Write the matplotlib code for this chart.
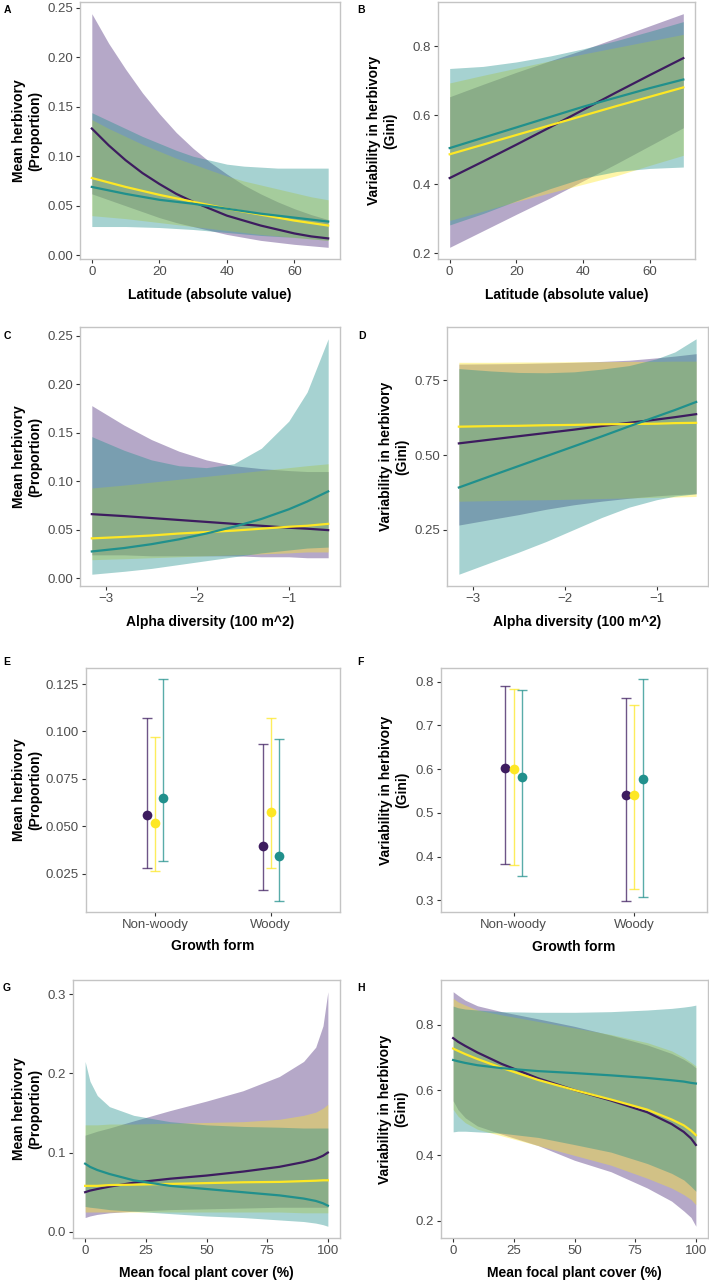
import numpy as np
import matplotlib.pyplot as plt

plt.rcParams['font.family'] = ['Liberation Sans', 'DejaVu Sans']

PURPLE = '#3d1c5f'
PURPLE_FILL = '#482677'
YELLOW = '#FDE725'
TEAL = '#21908C'

# ---- A : latitude, mean herbivory ----
lat_a = [0, 5, 10, 15, 20, 25, 30, 35, 40, 45, 50, 55, 60, 65, 70]
a_pur = [0.128, 0.111, 0.096, 0.083, 0.072, 0.062, 0.054, 0.047, 0.040, 0.035, 0.030, 0.026, 0.022, 0.019, 0.017]
a_pur_lo = [0.062, 0.056, 0.050, 0.044, 0.038, 0.033, 0.029, 0.025, 0.021, 0.018, 0.015, 0.013, 0.011, 0.0095, 0.008]
a_pur_hi = [0.244, 0.214, 0.188, 0.164, 0.143, 0.124, 0.108, 0.094, 0.082, 0.071, 0.062, 0.054, 0.047, 0.041, 0.036]
a_yel = [0.078, 0.0735, 0.069, 0.065, 0.061, 0.0575, 0.054, 0.0505, 0.047, 0.044, 0.041, 0.038, 0.035, 0.0325, 0.030]
a_yel_lo = [0.040, 0.0385, 0.037, 0.035, 0.033, 0.031, 0.029, 0.027, 0.025, 0.023, 0.021, 0.0195, 0.018, 0.0165, 0.015]
a_yel_hi = [0.137, 0.128, 0.120, 0.112, 0.105, 0.098, 0.092, 0.086, 0.080, 0.075, 0.071, 0.067, 0.063, 0.059, 0.056]
a_tea = [0.069, 0.0655, 0.062, 0.059, 0.056, 0.054, 0.052, 0.0495, 0.047, 0.0445, 0.042, 0.040, 0.038, 0.036, 0.034]
a_tea_lo = [0.029, 0.029, 0.029, 0.0285, 0.028, 0.027, 0.026, 0.0245, 0.023, 0.0215, 0.020, 0.019, 0.018, 0.0165, 0.015]
a_tea_hi = [0.144, 0.136, 0.128, 0.120, 0.113, 0.106, 0.100, 0.096, 0.092, 0.090, 0.089, 0.088, 0.088, 0.088, 0.088]

# ---- B : latitude, Gini ----
lat_b = [0, 10, 20, 30, 40, 50, 60, 70]
b_pur = [0.418, 0.466, 0.515, 0.565, 0.616, 0.667, 0.717, 0.766]
b_pur_lo = [0.217, 0.265, 0.313, 0.360, 0.410, 0.460, 0.512, 0.564]
b_pur_hi = [0.654, 0.690, 0.725, 0.758, 0.790, 0.825, 0.860, 0.895]
b_yel = [0.487, 0.515, 0.543, 0.571, 0.599, 0.627, 0.654, 0.681]
b_yel_lo = [0.295, 0.322, 0.350, 0.375, 0.400, 0.425, 0.455, 0.484]
b_yel_hi = [0.694, 0.716, 0.737, 0.758, 0.778, 0.797, 0.816, 0.835]
b_tea = [0.505, 0.535, 0.565, 0.595, 0.625, 0.652, 0.679, 0.704]
b_tea_lo = [0.282, 0.315, 0.352, 0.387, 0.418, 0.437, 0.446, 0.450]
b_tea_hi = [0.736, 0.742, 0.755, 0.772, 0.793, 0.817, 0.844, 0.872]

# ---- C / D : alpha diversity ----
alpha = [-3.15, -2.8, -2.5, -2.2, -1.9, -1.6, -1.3, -1.0, -0.8, -0.57]
c_pur = [0.066, 0.064, 0.062, 0.060, 0.058, 0.056, 0.054, 0.052, 0.051, 0.0495]
c_pur_lo = [0.024, 0.024, 0.023, 0.023, 0.023, 0.023, 0.022, 0.022, 0.021, 0.021]
c_pur_hi = [0.178, 0.158, 0.143, 0.131, 0.122, 0.116, 0.113, 0.111, 0.110, 0.110]
c_yel = [0.041, 0.0425, 0.044, 0.046, 0.0475, 0.049, 0.051, 0.053, 0.054, 0.056]
c_yel_lo = [0.019, 0.020, 0.021, 0.022, 0.023, 0.024, 0.025, 0.026, 0.027, 0.027]
c_yel_hi = [0.093, 0.096, 0.099, 0.102, 0.105, 0.108, 0.111, 0.114, 0.116, 0.118]
c_tea = [0.0275, 0.031, 0.035, 0.040, 0.046, 0.053, 0.061, 0.071, 0.079, 0.0895]
c_tea_lo = [0.004, 0.007, 0.010, 0.014, 0.018, 0.022, 0.026, 0.029, 0.031, 0.032]
c_tea_hi = [0.146, 0.132, 0.122, 0.116, 0.114, 0.118, 0.134, 0.162, 0.192, 0.247]

d_pur = [0.539, 0.552, 0.563, 0.574, 0.585, 0.597, 0.608, 0.619, 0.627, 0.637]
d_pur_lo = [0.265, 0.284, 0.300, 0.318, 0.333, 0.345, 0.355, 0.363, 0.367, 0.370]
d_pur_hi = [0.805, 0.806, 0.807, 0.809, 0.811, 0.814, 0.818, 0.826, 0.832, 0.840]
d_yel = [0.595, 0.597, 0.598, 0.600, 0.601, 0.603, 0.604, 0.605, 0.607, 0.608]
d_yel_lo = [0.345, 0.347, 0.349, 0.350, 0.352, 0.354, 0.356, 0.358, 0.359, 0.361]
d_yel_hi = [0.811, 0.811, 0.812, 0.812, 0.813, 0.813, 0.814, 0.814, 0.815, 0.815]
d_tea = [0.391, 0.430, 0.463, 0.496, 0.529, 0.562, 0.596, 0.629, 0.651, 0.678]
d_tea_lo = [0.100, 0.140, 0.174, 0.210, 0.250, 0.290, 0.325, 0.350, 0.362, 0.370]
d_tea_hi = [0.790, 0.782, 0.777, 0.776, 0.779, 0.788, 0.800, 0.823, 0.846, 0.890]

# ---- E / F : growth form ----
forms = ['Non-woody', 'Woody']
e_pur = [0.056, 0.0397]
e_pur_lo = [0.028, 0.0162]
e_pur_hi = [0.107, 0.0934]
e_yel = [0.0517, 0.0574]
e_yel_lo = [0.0266, 0.0282]
e_yel_hi = [0.097, 0.107]
e_tea = [0.065, 0.0341]
e_tea_lo = [0.0315, 0.0106]
e_tea_hi = [0.1276, 0.0959]

f_pur = [0.602, 0.542]
f_pur_lo = [0.383, 0.299]
f_pur_hi = [0.790, 0.762]
f_yel = [0.601, 0.540]
f_yel_lo = [0.381, 0.327]
f_yel_hi = [0.784, 0.746]
f_tea = [0.583, 0.577]
f_tea_lo = [0.356, 0.308]
f_tea_hi = [0.780, 0.806]

# ---- G / H : focal plant cover ----
cover = [0, 2, 5, 10, 20, 35, 50, 65, 80, 90, 95, 98, 100]
g_pur = [0.050, 0.052, 0.054, 0.057, 0.062, 0.067, 0.071, 0.076, 0.082, 0.088, 0.092, 0.096, 0.100]
g_pur_lo = [0.018, 0.020, 0.022, 0.024, 0.026, 0.028, 0.029, 0.030, 0.031, 0.031, 0.031, 0.031, 0.031]
g_pur_hi = [0.122, 0.124, 0.127, 0.131, 0.140, 0.153, 0.165, 0.178, 0.196, 0.215, 0.233, 0.260, 0.303]
g_yel = [0.058, 0.058, 0.058, 0.059, 0.0595, 0.0605, 0.0615, 0.0625, 0.063, 0.064, 0.0645, 0.065, 0.065]
g_yel_lo = [0.025, 0.025, 0.025, 0.025, 0.025, 0.025, 0.025, 0.025, 0.025, 0.024, 0.024, 0.024, 0.024]
g_yel_hi = [0.135, 0.135, 0.135, 0.136, 0.136, 0.137, 0.138, 0.139, 0.142, 0.147, 0.151, 0.156, 0.161]
g_tea = [0.086, 0.082, 0.078, 0.073, 0.065, 0.058, 0.054, 0.050, 0.046, 0.042, 0.039, 0.036, 0.033]
g_tea_lo = [0.032, 0.031, 0.030, 0.028, 0.026, 0.023, 0.020, 0.018, 0.015, 0.013, 0.011, 0.009, 0.007]
g_tea_hi = [0.215, 0.190, 0.172, 0.158, 0.147, 0.139, 0.135, 0.133, 0.132, 0.131, 0.131, 0.131, 0.131]

h_pur = [0.759, 0.748, 0.735, 0.715, 0.680, 0.636, 0.600, 0.568, 0.532, 0.496, 0.472, 0.452, 0.432]
h_pur_lo = [0.567, 0.540, 0.515, 0.490, 0.465, 0.430, 0.385, 0.350, 0.300, 0.260, 0.230, 0.210, 0.183]
h_pur_hi = [0.901, 0.890, 0.875, 0.858, 0.840, 0.818, 0.795, 0.768, 0.738, 0.712, 0.694, 0.680, 0.668]
h_yel = [0.727, 0.720, 0.710, 0.695, 0.668, 0.631, 0.600, 0.571, 0.540, 0.510, 0.492, 0.476, 0.462]
h_yel_lo = [0.541, 0.520, 0.500, 0.480, 0.460, 0.430, 0.400, 0.370, 0.330, 0.300, 0.280, 0.265, 0.249]
h_yel_hi = [0.881, 0.870, 0.860, 0.845, 0.830, 0.810, 0.790, 0.770, 0.745, 0.720, 0.700, 0.685, 0.674]
h_tea = [0.692, 0.688, 0.683, 0.676, 0.667, 0.658, 0.652, 0.645, 0.637, 0.630, 0.626, 0.622, 0.620]
h_tea_lo = [0.472, 0.474, 0.474, 0.472, 0.468, 0.455, 0.433, 0.410, 0.375, 0.345, 0.325, 0.305, 0.290]
h_tea_hi = [0.857, 0.852, 0.848, 0.845, 0.840, 0.838, 0.838, 0.840, 0.845, 0.850, 0.854, 0.857, 0.860]

W, H = 709, 1281
fig = plt.figure(figsize=(W / 100, H / 100), dpi=100)


def make_ax(l, r, t, b):
    return fig.add_axes([l / W, 1 - b / H, (r - l) / W, (b - t) / H])


def style(ax, ylabel, xlabel, ylab_off, xlab_off, l, r, t, b):
    for s in ax.spines.values():
        s.set_color('#c4c4c4')
        s.set_linewidth(1.0)
    ax.tick_params(colors='#333333', labelcolor='#4d4d4d', labelsize=9.5,
                   length=3, width=0.8, pad=2)
    ax.set_ylabel(ylabel, fontsize=10, fontweight='bold', va='center',
                  multialignment='center', color='black')
    ax.yaxis.set_label_coords(-ylab_off / (r - l), 0.5)
    ax.set_xlabel(xlabel, fontsize=10, fontweight='bold', va='center', color='black')
    ax.xaxis.set_label_coords(0.5, -xlab_off / (b - t))


def pad_lim(vals):
    lo, hi = min(vals), max(vals)
    p = 0.05 * (hi - lo)
    return lo - p, hi + p


def band_panel(ax, x, series):
    # series: (mean, lo, hi, line colour, fill colour) drawn purple, yellow, teal
    for m, lo, hi, c, fc in series:
        ax.fill_between(x, lo, hi, color=fc, alpha=0.4, linewidth=0)
    for m, lo, hi, c, fc in series:
        ax.plot(x, m, color=c, lw=1.6)
    ax.set_xlim(*pad_lim(x))
    allv = [v for s in series for v in s[1] + s[2]]
    ax.set_ylim(*pad_lim(allv))


def point_panel(ax, series):
    xs = np.arange(1, len(forms) + 1)
    offs = [-0.07, 0.0, 0.07]
    for (m, lo, hi, c), o in zip(series, offs):
        m = np.array(m)
        err = [m - np.array(lo), np.array(hi) - m]
        ax.errorbar(xs + o, m, yerr=err, fmt='none', ecolor=c, elinewidth=1.0,
                    capsize=3.5, capthick=1.0, alpha=0.75)
        ax.plot(xs + o, m, 'o', color=c, ms=7, mec='none')
    ax.set_xlim(0.4, len(forms) + 0.6)
    ax.set_xticks(xs)
    ax.set_xticklabels(forms)
    allv = [v for s in series for v in s[1] + s[2]]
    ax.set_ylim(*pad_lim(allv))


def trio(p, plo, phi, y, ylo, yhi, t, tlo, thi):
    return [(p, plo, phi, PURPLE, PURPLE_FILL), (y, ylo, yhi, YELLOW, YELLOW),
            (t, tlo, thi, TEAL, TEAL)]


mean_lab = 'Mean herbivory\n(Proportion)'
gini_lab = 'Variability in herbivory\n(Gini)'

# A
box = (80, 340, 2, 259)
ax = make_ax(*box)
band_panel(ax, lat_a, trio(a_pur, a_pur_lo, a_pur_hi, a_yel, a_yel_lo, a_yel_hi,
                           a_tea, a_tea_lo, a_tea_hi))
ax.set_xticks([0, 20, 40, 60])
ax.set_yticks([0, 0.05, 0.10, 0.15, 0.20, 0.25])
ax.set_yticklabels(['0.00', '0.05', '0.10', '0.15', '0.20', '0.25'])
style(ax, mean_lab, 'Latitude (absolute value)', 53, 36, *box)

# B
box = (438, 695, 2, 259)
ax = make_ax(*box)
band_panel(ax, lat_b, trio(b_pur, b_pur_lo, b_pur_hi, b_yel, b_yel_lo, b_yel_hi,
                           b_tea, b_tea_lo, b_tea_hi))
ax.set_xticks([0, 20, 40, 60])
ax.set_yticks([0.2, 0.4, 0.6, 0.8])
style(ax, gini_lab, 'Latitude (absolute value)', 56, 36, *box)

# C
box = (80, 340, 327, 586)
ax = make_ax(*box)
band_panel(ax, alpha, trio(c_pur, c_pur_lo, c_pur_hi, c_yel, c_yel_lo, c_yel_hi,
                           c_tea, c_tea_lo, c_tea_hi))
ax.set_xticks([-3, -2, -1])
ax.set_yticks([0, 0.05, 0.10, 0.15, 0.20, 0.25])
ax.set_yticklabels(['0.00', '0.05', '0.10', '0.15', '0.20', '0.25'])
style(ax, mean_lab, 'Alpha diversity (100 m^2)', 53, 36, *box)

# D
box = (447, 708, 327, 586)
ax = make_ax(*box)
band_panel(ax, alpha, trio(d_pur, d_pur_lo, d_pur_hi, d_yel, d_yel_lo, d_yel_hi,
                           d_tea, d_tea_lo, d_tea_hi))
ax.set_xticks([-3, -2, -1])
ax.set_yticks([0.25, 0.50, 0.75])
ax.set_yticklabels(['0.25', '0.50', '0.75'])
style(ax, gini_lab, 'Alpha diversity (100 m^2)', 53, 36, *box)

# E
box = (86, 340, 668, 912)
ax = make_ax(*box)
point_panel(ax, [(e_pur, e_pur_lo, e_pur_hi, PURPLE), (e_yel, e_yel_lo, e_yel_hi, YELLOW),
                 (e_tea, e_tea_lo, e_tea_hi, TEAL)])
ax.set_yticks([0.025, 0.05, 0.075, 0.10, 0.125])
ax.set_yticklabels(['0.025', '0.050', '0.075', '0.100', '0.125'])
style(ax, mean_lab, 'Growth form', 59, 34, *box)

# F
box = (441, 707, 668, 912)
ax = make_ax(*box)
point_panel(ax, [(f_pur, f_pur_lo, f_pur_hi, PURPLE), (f_yel, f_yel_lo, f_yel_hi, YELLOW),
                 (f_tea, f_tea_lo, f_tea_hi, TEAL)])
ax.set_yticks([0.3, 0.4, 0.5, 0.6, 0.7, 0.8])
style(ax, gini_lab, 'Growth form', 47, 35, *box)

# G
box = (73, 340, 980, 1238)
ax = make_ax(*box)
band_panel(ax, cover, trio(g_pur, g_pur_lo, g_pur_hi, g_yel, g_yel_lo, g_yel_hi,
                           g_tea, g_tea_lo, g_tea_hi))
ax.set_xticks([0, 25, 50, 75, 100])
ax.set_yticks([0.0, 0.1, 0.2, 0.3])
style(ax, mean_lab, 'Mean focal plant cover (%)', 46, 35, *box)

# H
box = (441, 708, 980, 1238)
ax = make_ax(*box)
band_panel(ax, cover, trio(h_pur, h_pur_lo, h_pur_hi, h_yel, h_yel_lo, h_yel_hi,
                           h_tea, h_tea_lo, h_tea_hi))
ax.set_xticks([0, 25, 50, 75, 100])
ax.set_yticks([0.2, 0.4, 0.6, 0.8])
style(ax, gini_lab, 'Mean focal plant cover (%)', 48, 35, *box)

# panel letters
for letter, px, py in [('A', 4, 10), ('B', 357, 10), ('C', 4, 336), ('D', 358, 336),
                       ('E', 3, 662), ('F', 357, 662), ('G', 3, 988), ('H', 357, 988)]:
    fig.text(px / W, 1 - py / H, letter, fontsize=7.5, fontweight='bold', va='center', ha='left')

fig.savefig('out.png', dpi=100)
